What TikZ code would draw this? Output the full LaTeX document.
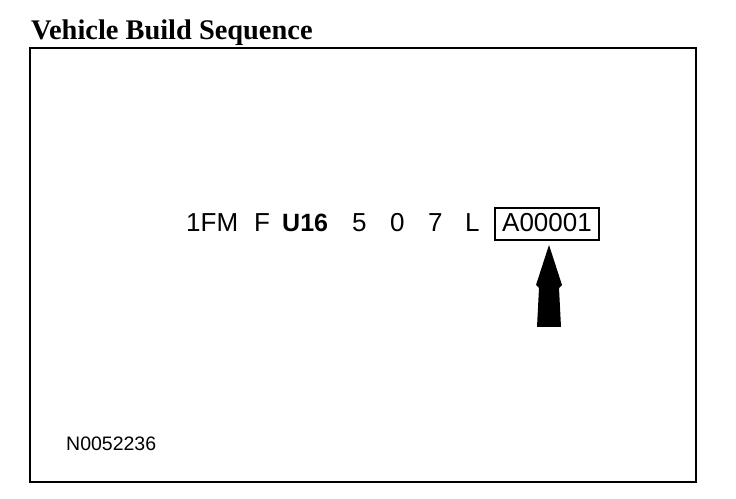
\documentclass[tikz,border=0pt]{standalone}
\usepackage{fontspec}
\setmainfont{Liberation Sans}
\newfontfamily\titlefont{Liberation Serif}
\usetikzlibrary{calc}
\tikzset{
  vin/.style={anchor=base west, inner sep=0pt, font=\fontsize{26}{30}\selectfont},
  frameline/.style={draw=black, line width=2pt},
}
\begin{document}
\begin{tikzpicture}[x=1pt,y=1pt]
\useasboundingbox (0,0) rectangle (736,498);
% title
\node[anchor=base west, inner sep=0pt, font=\titlefont\bfseries\fontsize{28.4}{32}\selectfont] (title) at (31,458) {Vehicle Build Sequence};
% frame
\draw[frameline] (30,450) rectangle (696,16);
% VIN parts
\node[vin] (wmi) at (186,266) {1FM};
\node[vin] (f) at (254,266) {F};
\node[vin, font=\bfseries\fontsize{25}{30}\selectfont] (u16) at (282,266) {U16};
\node[vin] (five) at (352,266) {5};
\node[vin] (zero) at (390,266) {0};
\node[vin] (seven) at (428,266) {7};
\node[vin] (ell) at (465,266) {L};
\node[anchor=base, draw, line width=2pt, font=\fontsize{26}{30}\selectfont,
      minimum width=104pt, text height=16pt, text depth=0pt, inner ysep=8pt, inner xsep=2pt]
      (seq) at (547,266) {A00001};
% arrow
\coordinate (tip) at ($(seq.south)+(2,-4)$);
\fill[black] (tip) -- ++(-13,-40) -- ++(3,-3) -- ++(-2,-39) -- ++(24,0) -- ++(-2,39) -- ++(3,3) -- cycle;
% reference number
\node[anchor=base west, inner sep=0pt, font=\fontsize{19.5}{22}\selectfont] (ref) at (66,48) {N0052236};
\end{tikzpicture}
\end{document}
